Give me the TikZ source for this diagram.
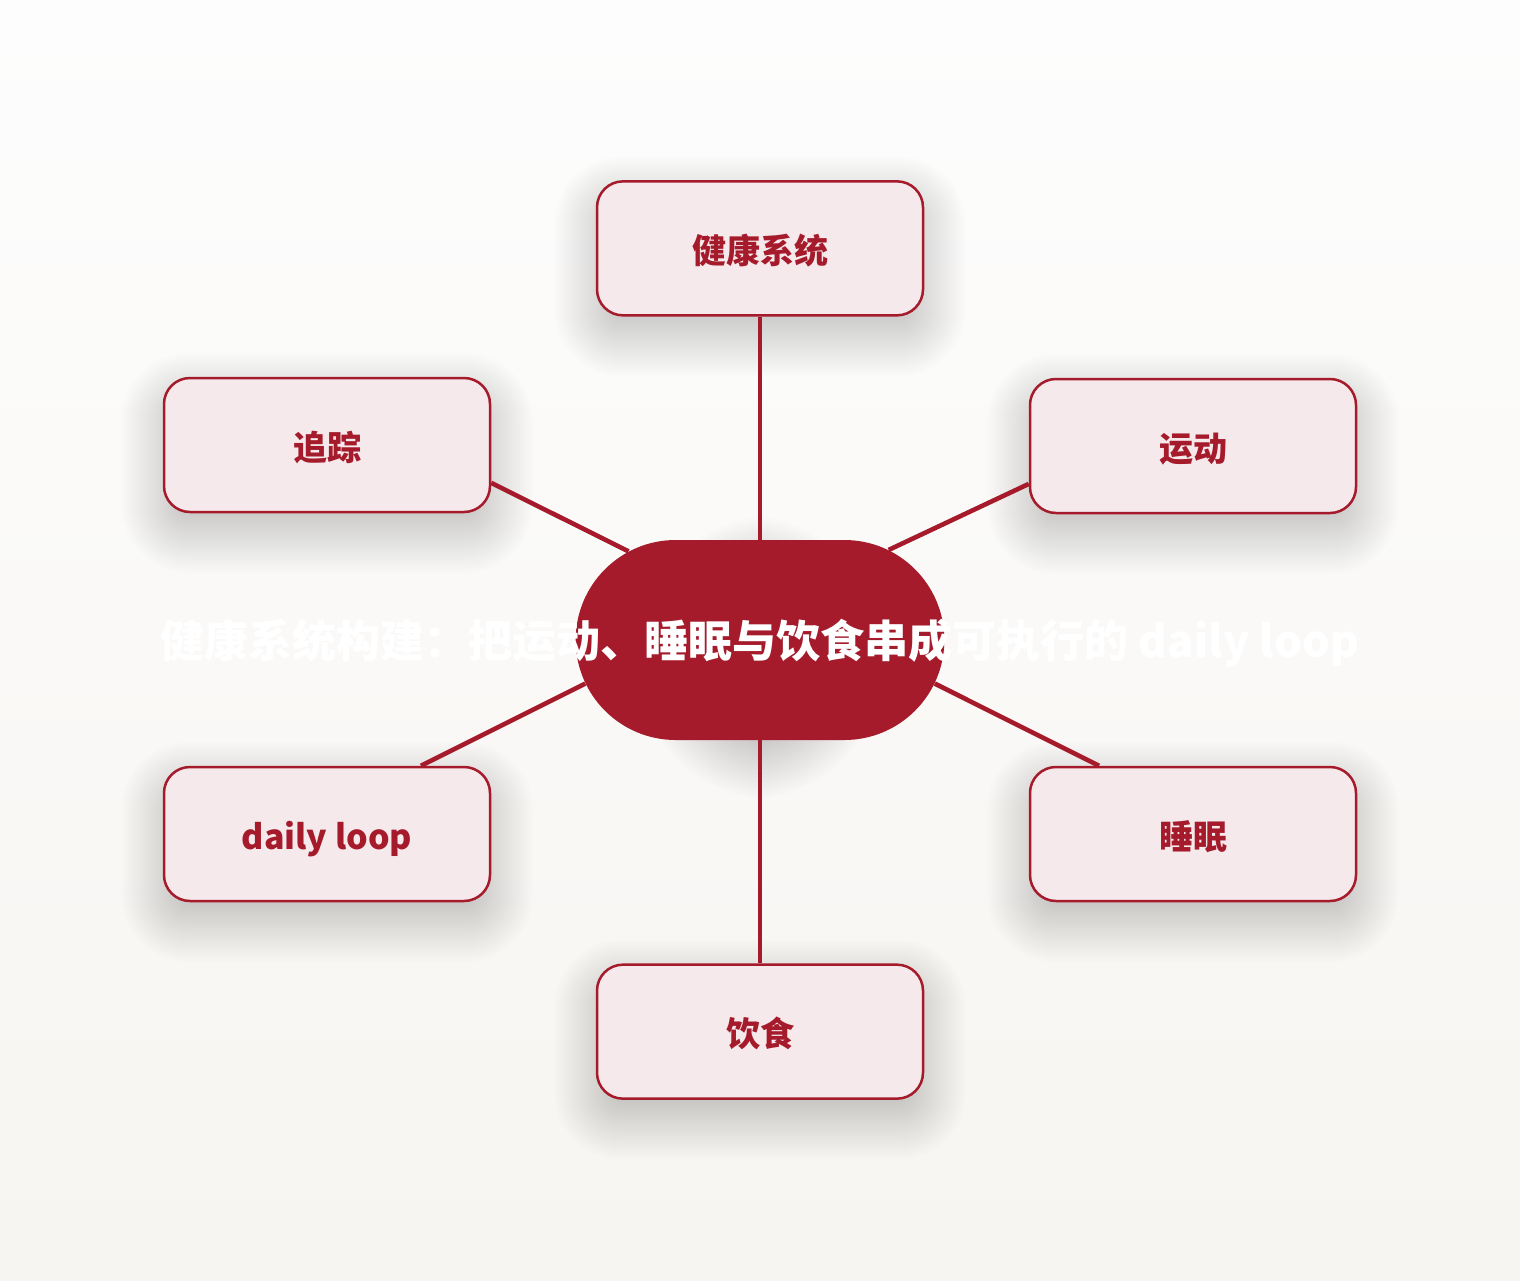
\documentclass[tikz,border=0pt]{standalone}
\usepackage{fontspec}
\setmainfont{Noto Sans CJK SC}
\usetikzlibrary{positioning, shapes.misc, calc}

\definecolor{deepred}{HTML}{A51B2B}
\definecolor{petal}{HTML}{F5E9EB}
\definecolor{paperhi}{HTML}{FDFDFD}
\definecolor{paperlo}{HTML}{F7F5F1}

\pgfdeclarelayer{back}
\pgfdeclarelayer{shade}
\pgfsetlayers{back,shade,main}

\begin{document}
\begin{tikzpicture}[
    x=0.5pt, y=-0.5pt,
    node distance={111.5pt},
    leaf/.style={draw=deepred, fill=petal, line width=1.25pt, rounded corners=13pt,
        minimum width=163pt, minimum height=67pt, text=deepred,
        text height=17pt, text depth=2pt,
        font=\bfseries\fontsize{17pt}{20pt}\selectfont},
    hubnode/.style={rounded rectangle, fill=deepred, minimum width=191pt, minimum height=100pt},
    title/.style={text=white, font=\bfseries\fontsize{22pt}{26pt}\selectfont},
    link/.style={color=deepred, line width=2.3pt}
]

\useasboundingbox (0,0) rectangle (1520,1280);

\node[hubnode] (hub) at (760,640) {};
\node[leaf] (sys) [above=of hub] {健康系统};
\node[leaf] (food) [below=of hub] {饮食};
\node[leaf] (trk) at (327,445) {追踪};
\node[leaf] (mov) at (1193,446) {运动};
\node[leaf] (loop) at (327,834) {daily loop};
\node[leaf] (slp) at (1193,834) {睡眠};
\node[title] (ttl) at (760,643) {健康系统构建：把运动、睡眠与饮食串成可执行的 daily loop};

\path[link]
    (hub.north) edge (sys.south)
    (hub.146) edge (trk.-13.5)
    (hub.35) edge (mov.193.8)
    (hub.194.4) edge (loop.36.4)
    (hub.-14.7) edge (slp.144.2)
    (hub.south) edge (food.north)
    ;

% paper and soft shadows
\begin{pgfonlayer}{back}
\fill[top color=paperhi, bottom color=paperlo] (0,0) rectangle (1520,1280);
\end{pgfonlayer}

\begin{pgfonlayer}{shade}
\foreach \n in {sys,trk,mov,loop,slp,food}
    \foreach \i in {1,...,24}
        \fill[black, opacity=0.008, rounded corners={13pt+(\i-8)*1.3pt}]
            ($(\n.south west)+(-1.3*\i pt+10.4pt,-9pt-1.3*\i pt+10.4pt)$) rectangle
            ($(\n.north east)+(1.3*\i pt-10.4pt,-9pt+1.3*\i pt-10.4pt)$);
\foreach \i in {1,...,24}
    \fill[black, opacity=0.008, rounded corners={50pt+(\i-8)*1.3pt}]
        ($(hub.south west)+(-1.3*\i pt+10.4pt,-9pt-1.3*\i pt+10.4pt)$) rectangle
        ($(hub.north east)+(1.3*\i pt-10.4pt,-9pt+1.3*\i pt-10.4pt)$);
\end{pgfonlayer}

\end{tikzpicture}
\end{document}
